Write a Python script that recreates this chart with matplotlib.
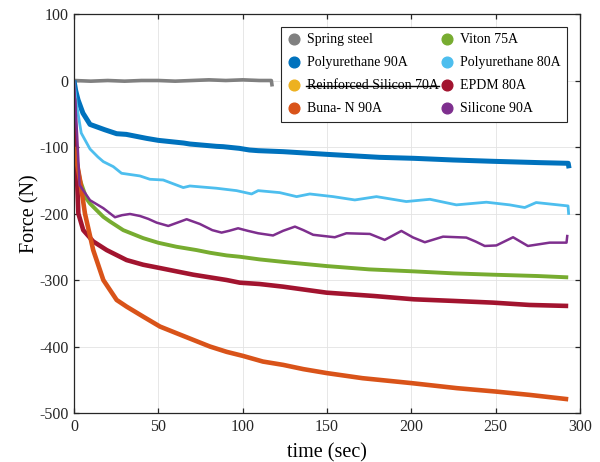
import numpy as np
import matplotlib
matplotlib.use("Agg")
import matplotlib.pyplot as plt
from matplotlib.lines import Line2D

plt.rcParams['font.family'] = ['Liberation Serif', 'DejaVu Serif']
plt.rcParams['axes.unicode_minus'] = False

# Relaxation test data, force (N) against time (sec)
t_spring = [0, 10, 20, 30, 40, 50, 60, 70, 80, 90, 100, 110, 117, 117.5]
f_spring = [0, -1, 0, -1, 0, 0, -1, 0, 1, 0, 1, 0, 0, -9]

t_viton = [0, 1.4, 3.6, 7.5, 9.5, 13.4, 17.4, 21.3, 29.2, 41, 50, 60.8, 72.7, 80.6,
           90.5, 98.3, 110, 125, 149.7, 175, 201.5, 225, 248.4, 275, 293]
f_viton = [-60, -120, -150, -178, -185, -195, -205, -212, -225, -237, -244, -250, -255, -259,
           -263, -265, -269, -273, -279, -284, -287, -290, -292, -294, -296]

t_pu90 = [0, 1, 2.4, 5.3, 9.5, 18.2, 25.3, 31, 43, 50, 65, 68.7, 84.5, 88.4, 98,
          104, 109.2, 124, 149.7, 181, 201.5, 224.7, 248.4, 276, 293, 293.5]
f_pu90 = [0, -15, -29, -49, -66, -74, -80, -81, -87, -90, -94, -95.5, -99, -99.5, -102,
          -104.5, -105.5, -107, -111, -115.5, -117, -119.5, -121.5, -123.5, -124.5, -132]

t_pu80 = [0, 1.4, 4.3, 9.5, 14.2, 17.4, 23.3, 28.2, 39.1, 45, 52.9, 64.8, 68.7, 84.5,
          96.4, 105.3, 109.2, 122, 132, 139.8, 153.6, 166.5, 179.3, 197, 211, 226.7,
          244.5, 258.3, 267.2, 274, 292.9, 293.3]
f_pu80 = [0, -34, -79, -103, -115, -122, -129.5, -139.5, -143.5, -148.5, -149.6, -161,
          -158.6, -162, -165.6, -170.6, -165.6, -168.6, -174.6, -170.6, -174.6, -179.6,
          -174.6, -182, -178.6, -187, -183, -187, -191, -183.5, -188.6, -202]

t_epdm = [0, 2.6, 5.5, 11.4, 19.4, 31.2, 41, 51, 60.8, 70.7, 80.6, 90.5, 98.3, 110,
          124, 149.7, 177.7, 201.5, 224.7, 248.4, 270, 293]
f_epdm = [-27, -200, -225, -242, -255, -270, -277, -282, -287, -292, -296, -300, -304, -306,
          -310, -319, -324, -329, -331.4, -334, -337.5, -339]

t_buna = [0, 3.6, 6.5, 11.4, 17.4, 25.3, 31.2, 41, 51, 60.8, 70.7, 80.6, 90.5, 100,
          112, 124, 136, 150, 171, 200, 227, 250, 270, 293]
f_buna = [-100, -150, -200, -255, -300, -330, -340, -355, -370, -380, -390, -400, -408, -414,
          -422.6, -427.6, -434, -440, -447.6, -455, -462.6, -467.7, -472.7, -479.3]

t_sil90 = [0, 1.9, 3.3, 9.5, 17.4, 24.3, 28.5, 33.2, 39.1, 44, 49, 55.9, 61, 66.8, 74.6,
           82, 87.5, 92, 97.3, 103, 109.2, 118, 124, 131, 136, 141.8, 154.6, 161.5,
           175.4, 184.2, 194.1, 201, 208, 218.8, 232.6, 238, 243.5, 250.4, 260.3, 269.1,
           282, 292, 292.5]
f_sil90 = [0, -84, -157, -180, -192, -205.6, -202.5, -200.7, -203.7, -208, -213.7, -218.7,
           -214, -208.6, -215.7, -225, -228.7, -226, -222.2, -226, -229.7, -233, -226,
           -219.7, -225, -232, -235.7, -229.7, -230.7, -239.7, -226.2, -236, -243.2,
           -234.8, -236.2, -242, -248.8, -248, -235.7, -248.8, -243.8, -243.8, -232]

names = ['Spring steel', 'Viton 75A', 'Polyurethane 90A', 'Polyurethane 80A',
         'Reinforced Silicon 70A', 'EPDM 80A', 'Buna- N 90A', 'Silicone 90A']
colors = ['#808080', '#77AC30', '#0072BD', '#4DBEEE',
          '#EDB120', '#A2142F', '#D95319', '#7E2F8E']

fig = plt.figure(figsize=(6, 4.62), dpi=100)
ax = fig.add_axes([0.1233, 0.106, 0.8434, 0.8637])

kw = dict(solid_joinstyle='round', solid_capstyle='butt')
ax.plot(t_spring, f_spring, color=colors[0], lw=2.6, **kw)
ax.plot(t_viton, f_viton, color=colors[1], lw=2.8, **kw)
ax.plot(t_pu90, f_pu90, color=colors[2], lw=3.6, **kw)
ax.plot(t_pu80, f_pu80, color=colors[3], lw=2.0, **kw)
ax.plot(t_epdm, f_epdm, color=colors[5], lw=3.3, **kw)
ax.plot(t_buna, f_buna, color=colors[6], lw=3.3, **kw)
ax.plot(t_sil90, f_sil90, color=colors[7], lw=1.8, **kw)

ax.set_xlim(0, 300)
ax.set_ylim(-500, 100)
ax.set_xticks(np.arange(0, 301, 50))
ax.set_yticks(np.arange(-500, 101, 100))
ax.grid(True, color='#e3e3e3', lw=0.6)
ax.set_axisbelow(True)
ax.tick_params(direction='in', top=True, right=True, length=3.5, width=0.9,
               labelsize=11.5, colors='#262626', pad=4)
for s in ax.spines.values():
    s.set_linewidth(0.9)
    s.set_color('#262626')

ax.set_xlabel('time (sec)', fontsize=14.5, labelpad=6)
ax.set_ylabel('Force (N)', fontsize=14.5, labelpad=0)

# legend fills row by row: reorder for matplotlib's column-wise layout
order = [0, 2, 4, 6, 1, 3, 5, 7]
handles = [Line2D([], [], marker='o', ls='none', color=colors[i], markersize=7.7) for i in order]
labels = [names[i] for i in order]
leg = ax.legend(handles, labels, ncol=2, loc='upper right', bbox_to_anchor=(0.974, 0.967),
                fontsize=10, frameon=True, fancybox=False, edgecolor='#262626',
                framealpha=1, borderpad=0.45, handlelength=1.0, handletextpad=0.4,
                columnspacing=0.15, labelspacing=0.72, borderaxespad=0)
leg.get_frame().set_linewidth(0.8)

# strike through the entry that has no data
fig.canvas.draw()
txt = [t for t in leg.get_texts() if t.get_text() == 'Reinforced Silicon 70A'][0]
bb = txt.get_window_extent()
W, H = fig.get_size_inches() * fig.dpi
yl = (bb.y0 + 0.5 * bb.height) / H
fig.add_artist(Line2D([(bb.x0 - 1) / W, (bb.x1 + 1) / W], [yl, yl],
                      transform=fig.transFigure, color='black', lw=1.0))

fig.savefig('out.png', dpi=100)
